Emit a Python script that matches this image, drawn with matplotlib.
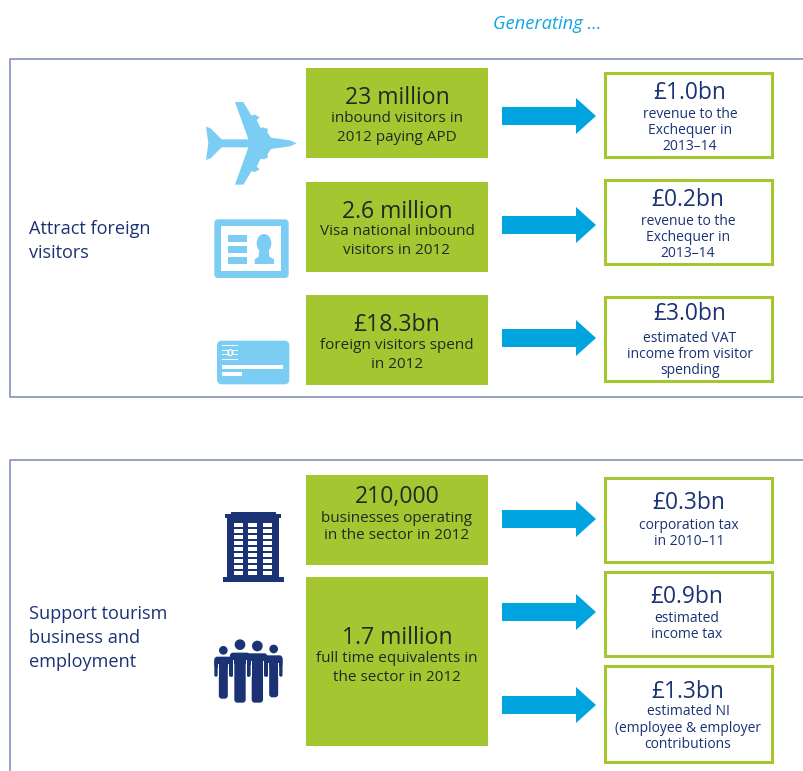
import matplotlib
matplotlib.use("Agg")
import matplotlib.pyplot as plt
from matplotlib.patches import Rectangle, FancyBboxPatch, Polygon, Ellipse

plt.rcParams['font.family'] = ['Open Sans', 'DejaVu Sans']

# ---- content ----
section_labels = ["Attract foreign\nvisitors", "Support tourism\nbusiness and\nemployment"]
header = "Generating ..."
green_titles = ["23 million", "2.6 million", "£18.3bn", "210,000", "1.7 million"]
green_lines = [["inbound visitors in", "2012 paying APD"],
               ["Visa national inbound", "visitors in 2012"],
               ["foreign visitors spend", "in 2012"],
               ["businesses operating", "in the sector in 2012"],
               ["full time equivalents in", "the sector in 2012"]]
out_titles = ["£1.0bn", "£0.2bn", "£3.0bn", "£0.3bn", "£0.9bn", "£1.3bn"]
out_lines = [["revenue to the", "Exchequer in", "2013–14"],
             ["revenue to the", "Exchequer in", "2013–14"],
             ["estimated VAT", "income from visitor", "spending"],
             ["corporation tax", "in 2010–11"],
             ["estimated", "income tax"],
             ["estimated NI", "(employee & employer", "contributions"]]

# ---- colours ----
GREEN = "#a4c731"; NAVY = "#1b3274"; DARK = "#1f2a22"; CYAN = "#00a5e0"
SKY = "#7bcdf3"; FRAME = "#7d88b3"

# ---- layout (pixels) ----
green_y = [(68, 158), (182, 272), (295, 385), (475, 565), (577, 746)]
green_base = [(104, 122, 141), (218, 235, 254), (331, 349, 368), (503, 522, 539), (644, 662, 681)]
out_y = [(73, 157), (180, 264), (297, 381), (478, 562), (572, 656), (666, 762)]
out_cx = [690, 688, 690, 689, 687, 688]
out_base = [(99, 118, 134, 150), (206, 225, 241, 257), (320, 342, 358, 374),
            (509, 529, 545), (603, 622, 638), (698, 715, 732, 748)]
arrow_y = [116, 225, 338, 519, 612, 705]

fig = plt.figure(figsize=(8.04, 7.71), dpi=100)
ax = fig.add_axes([0, 0, 1, 1])
ax.set_xlim(0, 804); ax.set_ylim(771, 0); ax.axis('off')

# frames
ax.plot([830, 10, 10, 830], [58.5, 58.5, 396.5, 396.5], color=FRAME, lw=1.1, clip_on=True)
ax.plot([10, 10, 830], [790, 459.5, 459.5], color=FRAME, lw=1.1, clip_on=True)

ax.text(547, 24, header, color="#12a6e0", style='italic', fontsize=13.2, ha='center', va='center')
ax.text(29, 241, section_labels[0], color=NAVY, fontsize=13.1, va='center', ha='left', linespacing=1.42)
ax.text(29, 638, section_labels[1], color=NAVY, fontsize=13.1, va='center', ha='left', linespacing=1.42)

for (y0, y1), t, ls, bs in zip(green_y, green_titles, green_lines, green_base):
    ax.add_patch(Rectangle((306, y0), 182, y1 - y0, fc=GREEN, ec='none'))
    ax.text(397, bs[0], t, color=DARK, fontsize=16.6, ha='center', va='baseline')
    for l, b in zip(ls, bs[1:]):
        ax.text(397, b, l, color=DARK, fontsize=11, ha='center', va='baseline')

for (y0, y1), cx, t, ls, bs in zip(out_y, out_cx, out_titles, out_lines, out_base):
    ax.add_patch(Rectangle((605, y0), 167, y1 - y0, fc='white', ec=GREEN, lw=2.2))
    ax.text(cx, bs[0], t, color=NAVY, fontsize=16.4, ha='center', va='baseline')
    for l, b in zip(ls, bs[1:]):
        ax.text(cx, b, l, color=NAVY, fontsize=10, ha='center', va='baseline')

for y in arrow_y:
    ax.add_patch(Polygon([(502, y - 9), (576, y - 9), (576, y - 18), (596, y), (576, y + 18),
                          (576, y + 9), (502, y + 9)], fc=CYAN, ec='none'))

# icons drawn from zoomed-crop coordinates
def z1(x, y): return (190 + x / 3, 60 + y / 3)
def z2(x, y): return (190 + x / 3, 470 + y / 3)
def rect(f, x0, y0, x1, y1, color, r=0):
    (a, b), (c, d) = f(x0, y0), f(x1, y1)
    if r:
        ax.add_patch(FancyBboxPatch((a + r, b + r), c - a - 2 * r, d - b - 2 * r,
                                    boxstyle=f"round,pad={r}", fc=color, ec='none'))
    else:
        ax.add_patch(Rectangle((a, b), c - a, d - b, fc=color, ec='none'))
def ell(f, cx, cy, rx, ry, color):
    a, b = f(cx, cy)
    ax.add_patch(Ellipse((a, b), 2 * rx / 3, 2 * ry / 3, fc=color, ec='none'))

# plane
top = [(320, 250), (300, 241), (243, 233), (232, 217), (234, 207), (220, 202), (212, 204),
       (200, 180), (209, 172), (195, 164), (184, 166), (160, 126), (135, 126), (175, 238),
       (95, 238), (62, 205), (48, 200), (55, 250)]
bot = [(x, 500 - y) for x, y in reversed(top[1:-1])]
ax.add_patch(Polygon([z1(*p) for p in top + bot], fc=SKY, ec='none'))

# id card
rect(z1, 73, 478, 296, 654, SKY, r=4)
rect(z1, 93, 498, 273, 634, 'white')
for y0 in (525, 558, 591):
    rect(z1, 113, y0, 171, y0 + 20, SKY)
ell(z1, 222, 550, 22, 28, SKY)
ax.add_patch(Polygon([z1(*p) for p in [(208, 565), (236, 565), (238, 590), (252, 598), (252, 612),
                                       (194, 612), (194, 598), (206, 590)]], fc=SKY, ec='none'))
# bank card
rect(z1, 81, 842, 298, 973, SKY, r=5)
rect(z1, 96, 915, 279, 927, 'white')
rect(z1, 96, 936, 156, 947, 'white')
for y0 in (856, 869, 883, 897):
    rect(z1, 96, y0, 143, y0 + 2.5, 'white')
ell(z1, 121, 878, 9, 11, 'white')
ell(z1, 121, 878, 4, 8, SKY)

# building
rect(z2, 99, 321, 282, 336, NAVY)
rect(z2, 111, 140, 268, 321, NAVY)
rect(z2, 105, 132, 273, 145, NAVY)
rect(z2, 122, 126, 258, 133, NAVY)
for x0 in (132, 174, 219):
    for y0 in (159, 177, 195, 212, 230, 248, 266, 284, 302):
        rect(z2, x0, y0, x0 + 27, y0 + 12, 'white')

# people
def person(cx, head_y, head_r, body_w, shoulder_w, top_y, bot_y, arm_bot):
    ell(z2, cx, head_y, head_r, head_r, NAVY)
    rect(z2, cx - shoulder_w / 2, top_y, cx + shoulder_w / 2, top_y + 35, NAVY, r=3)
    rect(z2, cx - body_w / 2, top_y + 5, cx + body_w / 2, bot_y, NAVY, r=3)
    for sx in (-1, 1):
        x0 = cx + sx * shoulder_w / 2
        rect(z2, min(x0, x0 - sx * 10), top_y + 8, max(x0, x0 - sx * 10), arm_bot, NAVY, r=1.5)
    # gap between arm and torso
    for sx in (-1, 1):
        g0 = cx + sx * body_w / 2
        g1 = cx + sx * (shoulder_w / 2 - 10)
        rect(z2, min(g0, g1), top_y + 22, max(g0, g1), arm_bot + 2, 'white')

person(100, 541, 13, 27, 54, 560, 686, 620)
person(251, 537, 13, 27, 53, 556, 682, 620)
person(150, 524, 16, 34, 60, 548, 698, 620)
person(202, 528, 16, 34, 60, 550, 698, 620)

fig.savefig("out.png", dpi=100, facecolor='white')
